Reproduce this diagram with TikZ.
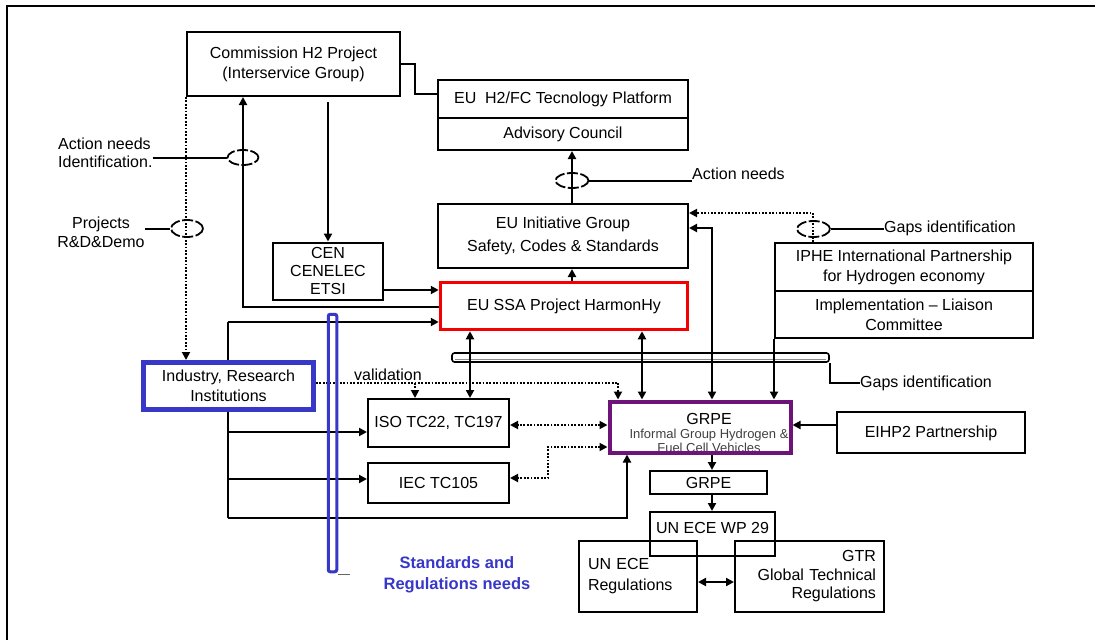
\documentclass[tikz,border=0pt]{standalone}
\usepackage{fontspec}
\setmainfont{Liberation Sans}
\usetikzlibrary{arrows.meta,shapes.geometric}
\definecolor{sblue}{RGB}{55,55,200}
\definecolor{spurple}{RGB}{110,20,120}
\definecolor{sred}{RGB}{245,0,0}
\newcommand\fmain{\fontsize{16pt}{20pt}\selectfont}
\newcommand\fsmallx{\fontsize{13pt}{15pt}\selectfont}
\tikzset{
  box/.style={draw, line width=2pt, inner sep=0pt, align=center, font=\fmain},
  lbl/.style={inner sep=0pt, font=\fmain},
  conn/.style={line width=2pt},
  tip/.style={},
  arr/.style={conn, -{Triangle[length=8pt,width=8pt]}},
  darr/.style={conn, {Triangle[length=8pt,width=8pt]}-{Triangle[length=8pt,width=8pt]}},
  dotconn/.style={line width=1.8pt, dash pattern=on 1.8pt off 1.6pt},
  dotarr/.style={dotconn, -{Triangle[length=8pt,width=8pt]}},
  dotdarr/.style={dotconn, {Triangle[length=8pt,width=8pt]}-{Triangle[length=8pt,width=8pt]}},
  ell/.style={draw, ellipse, line width=1.8pt, inner sep=0pt, dash pattern=on 11pt off 2.5pt},
}
\begin{document}
\begin{tikzpicture}[x=1pt,y=-1pt]
\useasboundingbox (0,0) rectangle (1095,640);
\fill[white] (0,0) rectangle (1095,640);
% outer frame
\draw[line width=2.2pt] (7,640) -- (7,6) -- (1095,6);

% boxes
\node[box, minimum width=213pt, minimum height=64pt] (comm) at (293.5,64) {Commission H2 Project\\(Interservice Group)};
\node[box, minimum width=250pt, minimum height=38pt] (plat) at (563,99) {EU\ \ H2/FC Tecnology Platform};
\node[box, minimum width=250pt, minimum height=32pt] (adv) at (563,134) {Advisory Council};
\node[box, minimum width=250pt, minimum height=64pt] (init) at (563,236) {EU Initiative Group\\[3pt]Safety, Codes \& Standards};
\node[box, draw=sred, line width=3.5pt, minimum width=247pt, minimum height=47pt] (harm) at (564,306) {EU SSA Project HarmonHy};
\node[box, font=\fontsize{16pt}{18pt}\selectfont, minimum width=110pt, minimum height=57pt] (cen) at (328,271) {CEN\\CENELEC\\ETSI};
\node[box, minimum width=141pt, minimum height=48pt] (iso) at (438.5,423) {ISO TC22, TC197};
\node[box, minimum width=141pt, minimum height=40pt] (iec) at (438.5,483) {IEC TC105};
\node[box, minimum width=258pt, minimum height=48pt] (iphe) at (904,267) {IPHE International Partnership\\for Hydrogen economy};
\node[box, minimum width=258pt, minimum height=47pt] (impl) at (904,314.5) {Implementation -- Liaison\\Committee};
\node[box, minimum width=188pt, minimum height=41pt, text height=11pt, text depth=1pt] (eihp) at (931,432) {EIHP2 Partnership};
\node[box, minimum width=117pt, minimum height=23pt] (grpe2) at (708.5,482.5) {GRPE};
\node[box, minimum width=125pt, minimum height=44pt, text height=11pt, text depth=13pt] (wp) at (712.5,534) {UN ECE WP 29};
\node[box, minimum width=118pt, minimum height=71pt, align=left, text width=100pt, font=\fontsize{16pt}{21pt}\selectfont] (unece) at (638,576.5) {UN ECE\\Regulations};
\node[box, minimum width=149pt, minimum height=71pt, align=right, text width=133pt, font=\fontsize{16pt}{18.5pt}\selectfont] (gtr) at (809.5,576.5) {GTR\\Global Technical\\Regulations};

% GRPE (text first, border drawn over it)
\node[align=center, inner sep=0pt, text=black!75] (grpet) at (709,433) {{\fontsize{16pt}{17pt}\selectfont\color{black} GRPE}\\[2pt]{\fsmallx Informal Group Hydrogen \&}\\[1pt]{\fsmallx Fuel Cell Vehicles}};
\node[draw=spurple, line width=4pt, inner sep=0pt, minimum width=181pt, minimum height=51pt] (grpe) at (700,427) {};

% free labels
\node[lbl, align=left, anchor=west, font=\fontsize{16pt}{18pt}\selectfont] (lan) at (58,153) {Action needs\\Identification.};
\node[lbl, align=center, font=\fontsize{16pt}{19pt}\selectfont] (lproj) at (101,232) {Projects\\R\&D\&Demo};
\node[lbl, anchor=west] (lact) at (692,174) {Action needs};
\node[lbl, anchor=west] (lgap1) at (884,228) {Gaps identification};
\node[lbl, anchor=west] (lgap2) at (860,383) {Gaps identification};
\node[lbl] (lval) at (388,375) {validation};
\node[lbl, align=center, text=sblue, font=\fontsize{16.5pt}{21pt}\selectfont\bfseries] (lstd) at (457,575) {Standards and\\Regulations needs};

% ellipses
\node[ell, minimum width=31pt, minimum height=15pt] (e1) at (243,157.5) {};
\node[ell, minimum width=32pt, minimum height=17pt] (e2) at (187,228.5) {};
\node[ell, minimum width=33pt, minimum height=15pt] (e3) at (572,180.5) {};
\node[ell, minimum width=33pt, minimum height=16pt] (e4) at (813.5,229) {};

% coordinates
\coordinate (k1) at (415,94);
\coordinate (k2) at (572,0);
\coordinate (k3) at (328,102);
\coordinate (k4) at (0,290);
\coordinate (k5) at (243,307);
\coordinate (b0) at (228,322);
\coordinate (b1) at (228,518);
\coordinate (b2) at (228,432);
\coordinate (b3) at (228,479);
\coordinate (b4) at (627,518);
\coordinate (v1) at (618,383);
\coordinate (v2) at (415,383);
\coordinate (h1) at (470,0);
\coordinate (h2) at (642,0);
\coordinate (i1) at (712,228);
\coordinate (d1) at (813,213);
\coordinate (q1) at (0,425);
\coordinate (q2) at (548,447);
\coordinate (q3) at (548,478);
\coordinate (r1) at (712,0);
\coordinate (r2) at (0,582);

% gaps bar
\node[draw, line width=1.6pt, rounded corners=2.5pt, inner sep=0pt, minimum width=377pt, minimum height=9pt] (gbar) at (640.5,357.5) {};
\draw[black!45, line width=1.2pt] ([xshift=4pt,yshift=-2pt]gbar.west) -- ([xshift=-4pt,yshift=-2pt]gbar.east);
\draw[conn] (gbar.south east) |- (lgap2.west);

% connectors
\draw[conn] (comm.east) -| (k1) -- (k1 -| plat.west);
\draw[arr] (init.north -| k2) -- (adv.south -| k2);
\draw[conn] (e3.east) -- (e3.east -| lact.west);
\draw[arr] (harm.north -| k2) -- (init.south -| k2);
\draw[arr] (k3) -- (k3 |- cen.north);
\draw[arr] (cen.east |- k4) -- (harm.west |- k4);
\draw[arr] (harm.west |- k5) -| (comm.south -| k5);
\draw[conn] (lan.east |- e1) -- (e1.west);
\draw[conn] (lproj.east |- e2) -- (e2.west);

% bus from Industry
\draw[conn] (b0) -- (b1);
\draw[arr] (b0) -- (b0 -| harm.west);
\draw[arr] (b2) -- (b2 -| iso.west);
\draw[arr] (b3) -- (b3 -| iec.west);
\draw[arr] (b1) -- (b4) -- (b4 |- grpe.south);

\node[box, draw=sblue, line width=5pt, fill=white, minimum width=170pt, minimum height=47pt] (ind) at (228.5,386) {Industry, Research\\Institutions};
\draw[dotarr] (comm.south west) -- (ind.north -| comm.south west);

% validation
\draw[dotconn] (ind.east |- v1) -- (v1);
\draw[dotarr] (v1) -- (v1 |- grpe.north);
\draw[dotarr] (v2) -- (v2 |- iso.north);

\draw[darr] (harm.south -| h1) -- (iso.north -| h1);
\draw[darr] (harm.south -| h2) -- (grpe.north -| h2);
\draw[darr] (i1 |- grpe.north) -- (i1) -- (init.east |- i1);
\draw[dotarr] (d1 |- iphe.north) -- (d1) -- (init.east |- d1);
\draw[conn] (e4.east) -- (e4.east -| lgap1.west);
\draw[arr] (impl.south west) -- (impl.south west |- grpe.north);
\draw[arr] (eihp.west |- q1) -- (grpe.east |- q1);
\draw[dotdarr] (grpe.west |- q1) -- (iso.east |- q1);
\draw[dotdarr] (grpe.west |- q2) -- (q2) -- (q3) -- (iec.east |- q3);
\draw[arr] (grpe.south -| r1) -- (grpe2.north -| r1);
\draw[arr] (grpe2.south -| r1) -- (wp.north -| r1);
\draw[darr] (unece.east |- r2) -- (gtr.west |- r2);

% blue bar
\node[draw=sblue, line width=3pt, rounded corners=2pt, inner sep=0pt, minimum width=8.5pt, minimum height=257.5pt] (bbar) at (332.5,443) {};
\draw[black!60, line width=1.4pt] ([yshift=-1.5pt]bbar.south east) -- ++(12,0);
\end{tikzpicture}
\end{document}
